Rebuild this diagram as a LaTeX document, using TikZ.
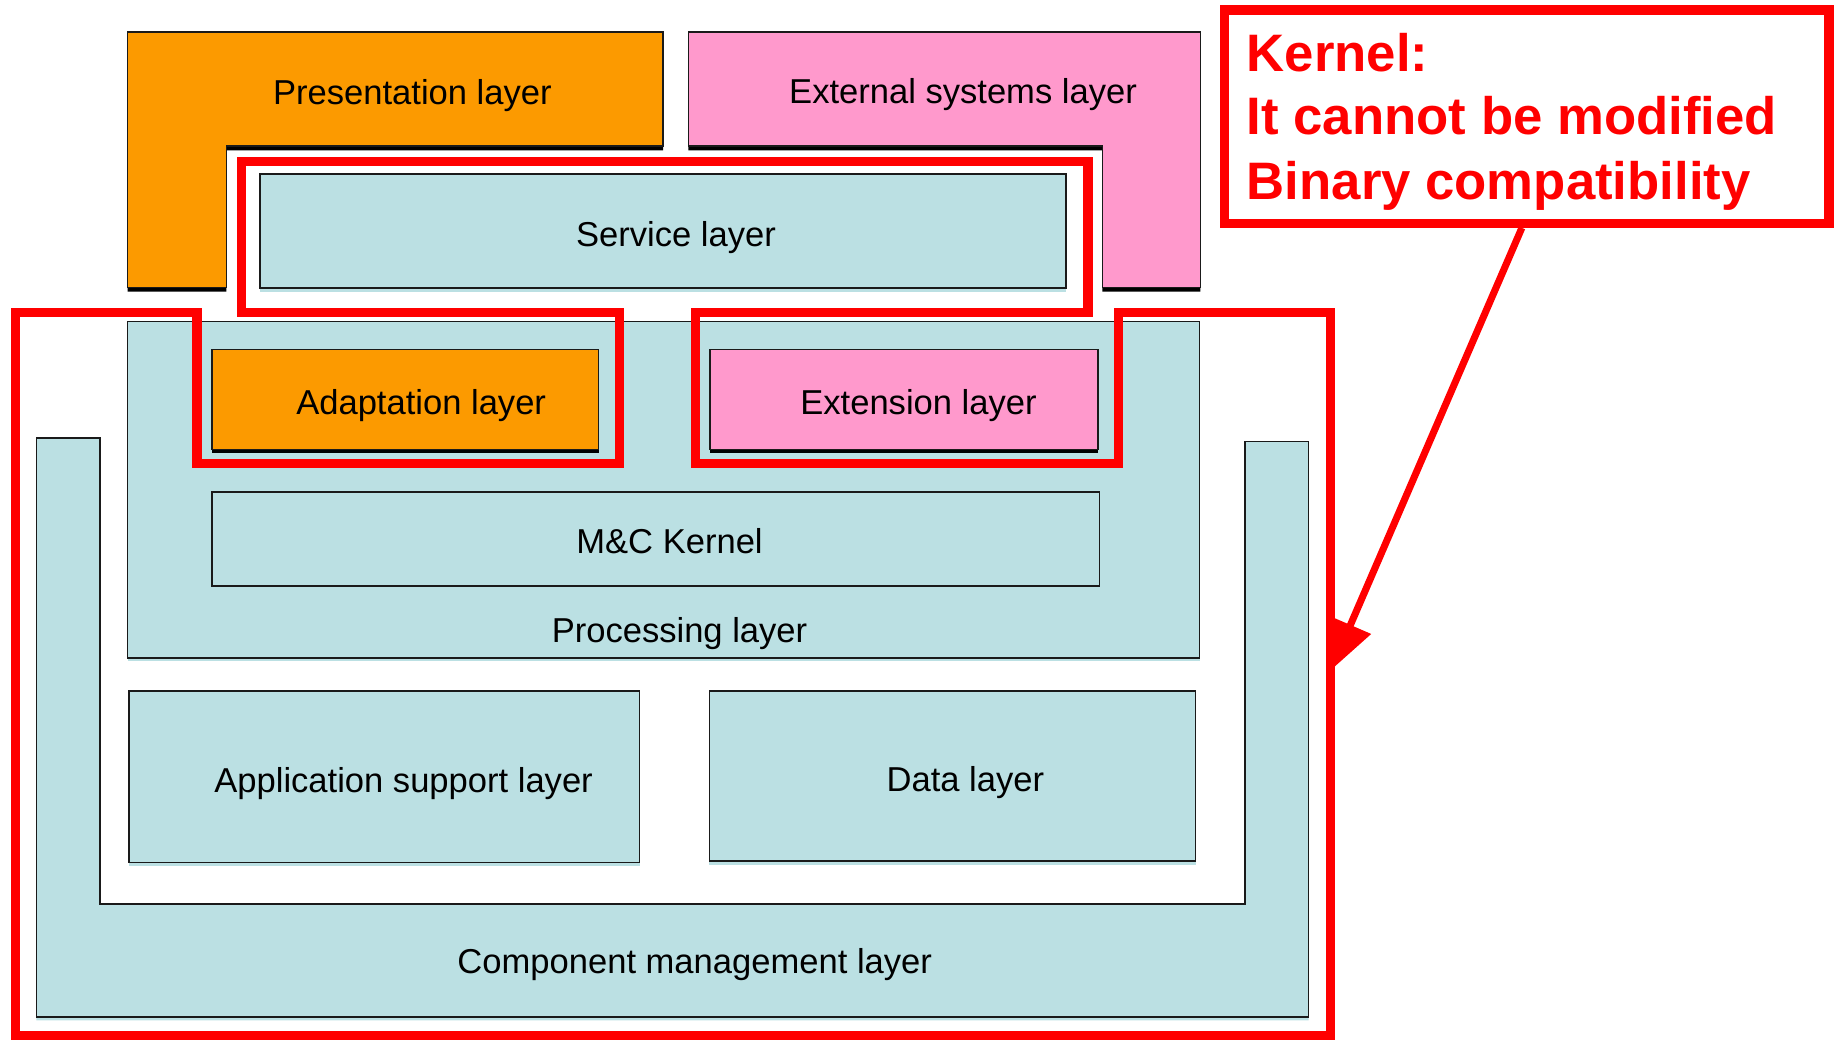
\documentclass[tikz,border=0pt]{standalone}
\usepackage{fontspec}
\setmainfont{Liberation Sans}
\usetikzlibrary{shadows,arrows.meta}
\definecolor{orng}{HTML}{FC9A00}
\definecolor{pnk}{HTML}{FF99CC}
\definecolor{lblue}{HTML}{BBE0E3}
\definecolor{boxline}{HTML}{1A1A1A}
\definecolor{kred}{HTML}{FF0000}
\newcommand\lblfont{\fontsize{29.5}{35}\selectfont}
\newcommand\calloutfont{\fontsize{45}{54}\selectfont\bfseries}
\tikzset{
  box/.style={draw=boxline, line width=1.3pt, inner sep=0pt, outer sep=0pt, anchor=north west},
  blueshape/.style={draw=boxline, line width=1.3pt, fill=lblue,
     drop shadow={shadow xshift=0pt, shadow yshift=-3pt, fill=lblue, opacity=1}},
  orangeshape/.style={draw=boxline, line width=1.3pt, fill=orng,
     drop shadow={shadow xshift=0pt, shadow yshift=-3.5pt, fill=black, opacity=1}},
  pinkshape/.style={draw=boxline, line width=1.3pt, fill=pnk,
     drop shadow={shadow xshift=0pt, shadow yshift=-3.5pt, fill=black, opacity=1}},
  lbl/.style={font=\lblfont, anchor=base, inner sep=0pt, text=black},
  redframe/.style={draw=kred, line width=8pt},
  ktext/.style={font=\calloutfont, text=kred, anchor=base west, inner sep=0pt},
}
\begin{document}
\begin{tikzpicture}[x=1pt,y=-1pt]
\fill[white] (0,0) rectangle (1568,887);
\useasboundingbox (0,0) rectangle (1568,887);

% Component management layer (U shape)
\draw[blueshape] (31,374) -- (85.5,374) -- (85.5,771.5) -- (1062.5,771.5) -- (1062.5,377) -- (1117,377) -- (1117,868) -- (31,868) -- cycle;
\node[lbl] (cmlabel) at (593,831) {Component management layer};

% Processing layer
\node[box, blueshape, minimum width=915pt, minimum height=287pt] (proc) at (109,274.5) {};
\node[lbl] (proclabel) at (580,548) {Processing layer};

% Application support / Data
\node[box, blueshape, minimum width=436pt, minimum height=146pt] (app) at (110,590) {};
\node[lbl] (applabel) at (344.5,676.5) {Application support layer};
\node[box, blueshape, minimum width=415pt, minimum height=145pt] (data) at (605.5,590) {};
\node[lbl] (datalabel) at (824,676) {Data layer};

% Adaptation / Extension / M&C
\node[box, orangeshape, minimum width=330pt, minimum height=85pt] (adapt) at (181,298.5) {};
\node[lbl] (adaptlabel) at (359.5,354) {Adaptation layer};
\node[box, pinkshape, minimum width=331pt, minimum height=85pt] (ext) at (606,298.5) {};
\node[lbl] (extlabel) at (784,354) {Extension layer};
\node[box, blueshape, minimum width=757.5pt, minimum height=80pt] (mck) at (181,420) {};
\node[lbl] (mcklabel) at (571.5,472.3) {M\&C Kernel};

% Presentation (L) and External systems (L)
\draw[orangeshape] (109,27.5) -- (566,27.5) -- (566,124.8) -- (193.3,124.8) -- (193.3,245.5) -- (109,245.5) -- cycle;
\node[lbl] (preslabel) at (352,88.8) {Presentation layer};
\draw[pinkshape] (587.5,27.5) -- (1024.5,27.5) -- (1024.5,245.5) -- (941,245.5) -- (941,124.8) -- (587.5,124.8) -- cycle;
\node[lbl] (extsyslabel) at (822,88.5) {External systems layer};

% Service layer
\node[box, blueshape, minimum width=688pt, minimum height=97.5pt] (serv) at (222,148.5) {};
\node[lbl] (servlabel) at (577,210) {Service layer};

% Kernel red outline
\draw[redframe] (13,266.5) -- (168,266.5) -- (168,395.5) -- (528.8,395.5) -- (528.8,266.5)
  -- (206.3,266.5) -- (206.3,138) -- (928.7,138) -- (928.7,266.5) -- (593.5,266.5)
  -- (593.5,395.5) -- (954.5,395.5) -- (954.5,266.5) -- (1135.5,266.5) -- (1135.5,884)
  -- (13,884) -- cycle;

% Callout
\node[draw=kred, line width=8pt, inner sep=0pt, outer sep=0pt, anchor=north west,
      minimum width=516pt, minimum height=182pt] (callout) at (1045,8.5) {};
\node[ktext] (k1) at (1064,61.2) {Kernel:};
\node[ktext] (k2) at (1064,115.2) {It cannot be modified};
\node[ktext] (k3) at (1064,170.1) {Binary compatibility};
\coordinate (atip) at (1136,572);
\draw[kred, line width=6pt, -{Triangle[length=42pt,width=37pt]}]
  ([xshift=254pt,yshift=-4pt]callout.south west) -- (atip);
\end{tikzpicture}
\end{document}
